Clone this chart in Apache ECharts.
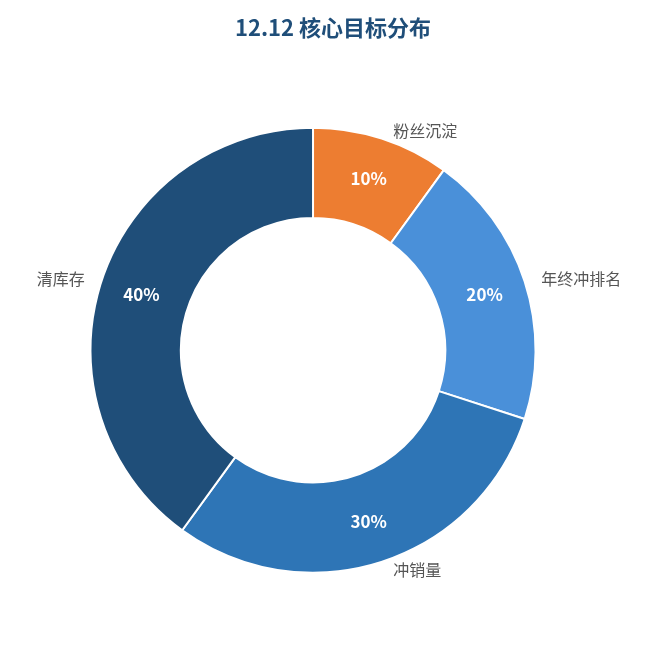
<!DOCTYPE html>
<html><head><meta charset="utf-8">
<script src="https://cdn.jsdelivr.net/npm/echarts@6/dist/echarts.min.js"></script>
<style>html,body{margin:0;padding:0;background:#fff}#main{width:666px;height:645px}</style>
</head><body><div id="main"></div>
<script>
const categories = ['粉丝沉淀', '年终冲排名', '冲销量', '清库存'];
const values = [10, 20, 30, 40];
const colors = ['#ED7D31', '#4A90D9', '#2E75B6', '#1F4E79'];

window.addEventListener('load', function () {
    let chart = echarts.init(document.getElementById('main'));
    let data = categories.map((c, i) => ({ name: c, value: values[i], itemStyle: { color: colors[i] } }));
    let option = {
        textStyle: { fontFamily: 'Noto Sans CJK SC' },
        title: {
            text: '12.12 核心目标分布', left: 'center', top: 12,
            textStyle: { color: '#1F4E79', fontSize: 22, fontWeight: 'bold', fontFamily: 'Noto Sans CJK SC' }
        },
        series: [{
            type: 'pie', center: ['47%', '54.3%'], radius: ['41%', '69%'],
            startAngle: 90, clockwise: true, silent: true,
            itemStyle: { borderColor: '#fff', borderWidth: 2 },
            label: { position: 'inside', formatter: '{c}%', color: '#fff', fontSize: 17, fontWeight: 'bold' },
            data: data
        }, {
            type: 'pie', center: ['47%', '54.3%'], radius: ['41%', '69%'],
            startAngle: 90, clockwise: true, silent: true,
            itemStyle: { color: 'transparent' },
            label: { position: 'outside', formatter: '{b}', color: '#555', fontSize: 16 },
            labelLine: { show: false, length: 8, length2: 4 },
            data: data.map(d => ({ name: d.name, value: d.value }))
        }]
    };
    chart.setOption(option);
}, false);
</script></body></html>
